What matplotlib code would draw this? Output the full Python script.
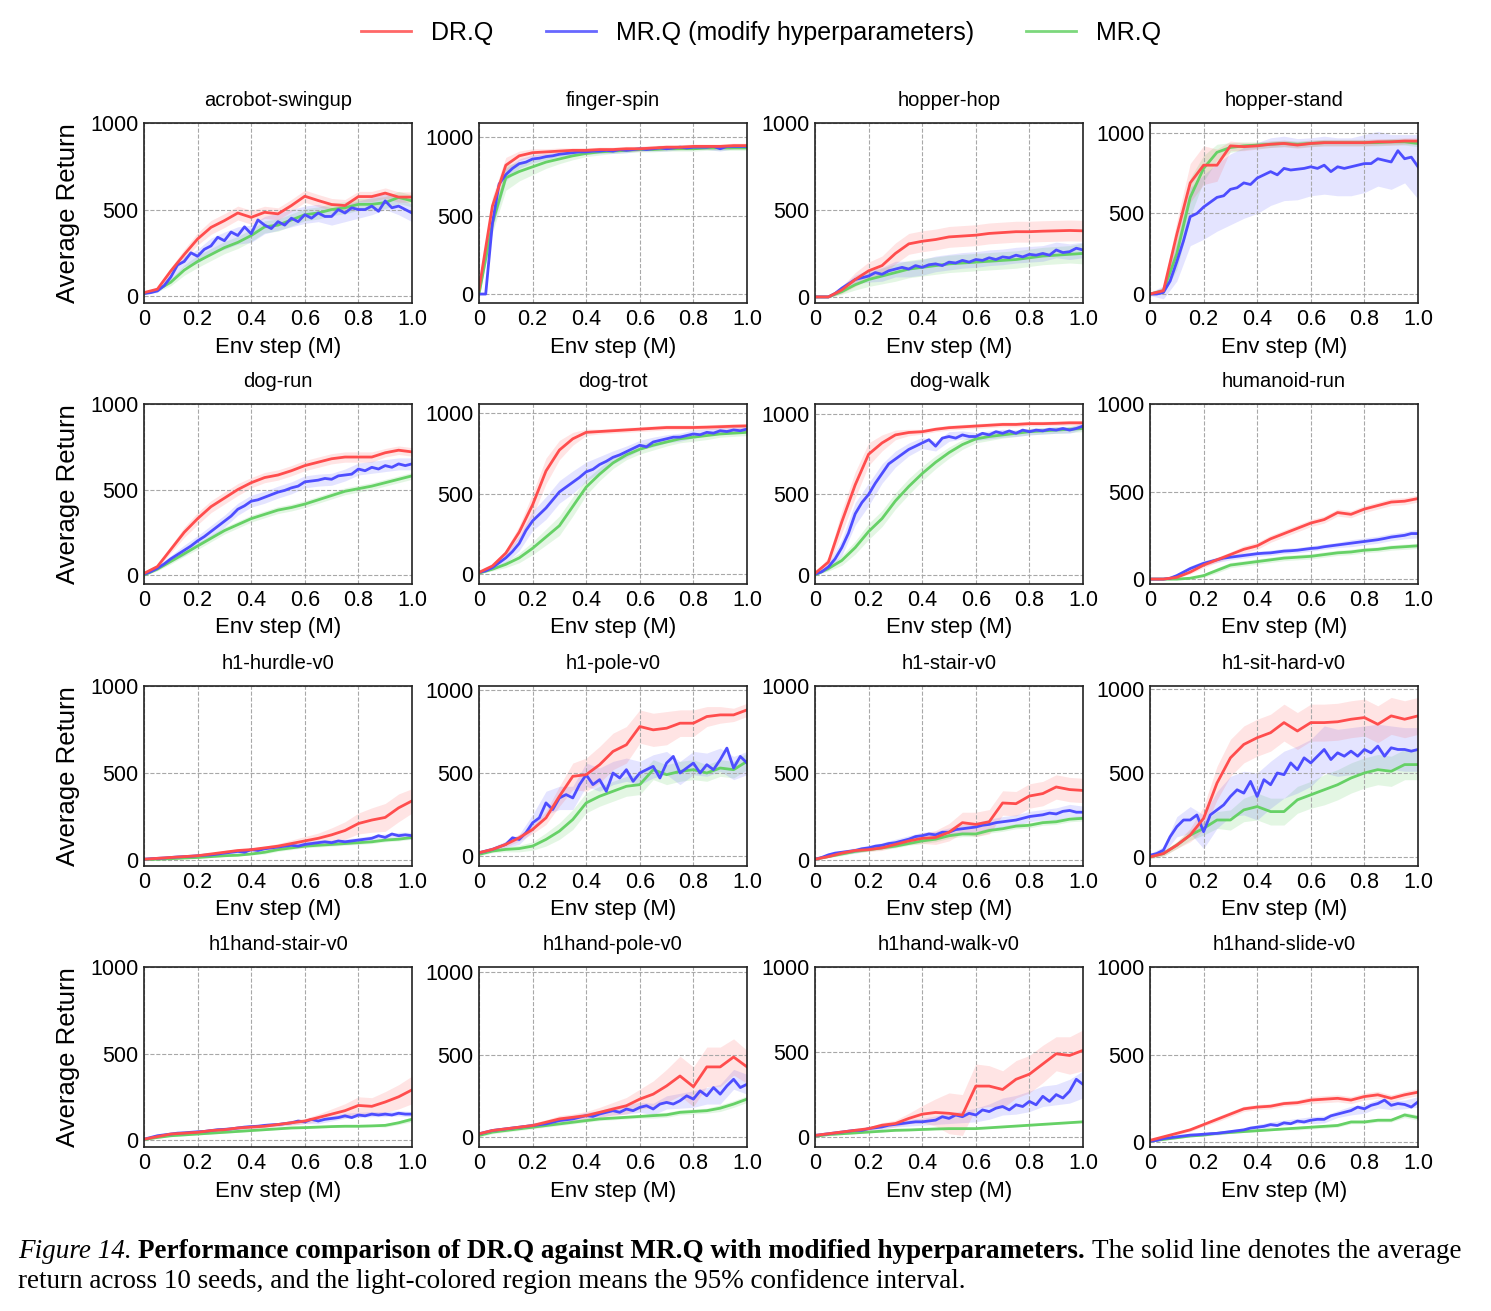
"""
DR.Q vs MR.Q (modified hyperparameters) learning curves, 16 tasks
"""
import numpy as np
import matplotlib
matplotlib.use("Agg")
import matplotlib.pyplot as plt
from matplotlib.lines import Line2D

# x grids: DR.Q / MR.Q logged every 0.05M, modified MR.Q every 0.025M
steps_coarse = np.linspace(0, 1, 21)
steps_fine = np.linspace(0, 1, 41)

# ---- acrobot-swingup
acrobot_drq = [20, 40, 145, 240, 330, 397, 436, 480, 455, 484, 475, 523, 577, 552, 529, 523, 575, 575, 595, 572, 572]
acrobot_mod = [15, 20, 30, 60, 110, 180, 200, 250, 230, 270, 290, 340, 320, 370, 350, 400, 360, 440, 410, 390, 430,
               410, 450, 430, 470, 450, 480, 460, 460, 500, 480, 510, 500, 500, 520, 490, 550, 510, 520, 500, 480]
acrobot_mrq = [15, 35, 80, 150, 200, 240, 280, 310, 350, 400, 410, 440, 470, 480, 500, 510, 530, 530, 540, 570, 550]
acrobot_drq_ci = [5, 10, 20, 30, 35, 40, 40, 40, 40, 35, 35, 35, 35, 35, 35, 35, 30, 30, 30, 30, 30]
acrobot_mod_ci = [5, 10, 20, 30, 40, 45, 50, 50, 50, 50, 50, 50, 50, 50, 50, 50, 50, 50, 50, 50, 50]
acrobot_mrq_ci = [5, 10, 20, 30, 35, 35, 35, 35, 35, 35, 35, 35, 35, 35, 35, 35, 35, 35, 35, 35, 35]

# ---- finger-spin
finger_drq = [30, 560, 820, 880, 900, 905, 910, 915, 915, 920, 920, 925, 925, 930, 935, 935, 940, 940, 940, 945, 945]
finger_mod = [0, 0, 450, 700, 760, 800, 830, 840, 860, 865, 875, 880, 890, 895, 900, 905, 905, 910, 910, 915, 910,
              920, 915, 920, 925, 920, 925, 930, 925, 930, 935, 930, 935, 935, 935, 940, 925, 940, 940, 940, 940]
finger_mrq = [0, 450, 740, 780, 810, 840, 860, 880, 895, 905, 910, 915, 920, 920, 925, 925, 925, 930, 930, 930, 930]
finger_drq_ci = [20, 60, 50, 30, 25, 20, 20, 15, 15, 15, 15, 15, 15, 15, 15, 15, 15, 15, 15, 15, 15]
finger_mod_ci = [10, 40, 40, 30, 25, 20, 15, 15, 15, 15, 15, 15, 15, 15, 15, 15, 15, 15, 15, 15, 15]
finger_mrq_ci = [10, 60, 80, 60, 50, 40, 30, 25, 20, 20, 15, 15, 15, 15, 15, 15, 15, 15, 15, 15, 15]

# ---- hopper-hop
hop_drq = [0, 0, 40, 100, 150, 180, 250, 305, 320, 330, 345, 350, 355, 365, 370, 375, 375, 378, 380, 382, 380]
hop_mod = [0, 0, 0, 20, 50, 75, 100, 110, 120, 140, 130, 150, 160, 170, 160, 180, 170, 185, 190, 180, 200,
           195, 210, 200, 215, 210, 225, 215, 230, 225, 240, 230, 245, 240, 250, 240, 270, 255, 260, 280, 270]
hop_mrq = [0, 0, 30, 70, 100, 120, 140, 160, 170, 180, 190, 195, 200, 205, 210, 215, 225, 235, 240, 245, 250]
hop_drq_ci = [5, 5, 20, 40, 50, 55, 60, 60, 60, 60, 60, 60, 60, 60, 60, 60, 60, 60, 60, 60, 60]
hop_mod_ci = [5, 5, 15, 25, 35, 40, 45, 45, 45, 45, 45, 45, 45, 45, 45, 45, 45, 45, 45, 45, 45]
hop_mrq_ci = [5, 5, 15, 30, 40, 45, 50, 50, 50, 50, 50, 50, 50, 50, 50, 50, 50, 50, 50, 50, 60]

# ---- hopper-stand
stand_drq = [0, 20, 370, 690, 800, 800, 920, 915, 920, 930, 935, 925, 935, 940, 940, 940, 940, 945, 945, 950, 950]
stand_mod = [0, 0, 10, 80, 200, 330, 480, 500, 540, 570, 600, 610, 650, 660, 690, 680, 720, 740, 760, 740, 780,
             770, 775, 780, 790, 780, 800, 760, 790, 780, 790, 800, 810, 810, 840, 830, 820, 890, 840, 850, 790]
stand_mrq = [0, 20, 250, 600, 780, 880, 910, 920, 925, 930, 935, 930, 935, 940, 940, 940, 940, 940, 945, 945, 935]
stand_drq_ci = [10, 20, 80, 120, 120, 100, 30, 25, 20, 20, 20, 20, 20, 20, 20, 20, 20, 20, 20, 20, 20]
stand_mod_ci = [10, 40, 120, 180, 200, 210, 220, 220, 220, 210, 200, 190, 180, 180, 180, 180, 180, 170, 170, 150, 200]
stand_mrq_ci = [10, 20, 100, 120, 80, 50, 30, 25, 20, 20, 20, 20, 20, 20, 20, 20, 20, 20, 20, 20, 20]

# ---- dog-run
dogrun_drq = [10, 50, 150, 250, 330, 400, 450, 500, 540, 570, 585, 610, 640, 660, 680, 690, 690, 690, 715, 730, 720]
dogrun_mod = [5, 20, 40, 65, 95, 120, 145, 170, 200, 225, 255, 285, 315, 345, 385, 405, 432, 440, 455, 470, 485,
              495, 510, 520, 545, 550, 555, 565, 560, 580, 585, 590, 620, 610, 630, 620, 640, 630, 650, 640, 650]
dogrun_mrq = [0, 35, 80, 125, 170, 215, 260, 295, 330, 355, 380, 395, 415, 440, 465, 490, 505, 520, 540, 560, 580]
dogrun_drq_ci = [5, 10, 20, 30, 35, 35, 35, 35, 30, 30, 30, 30, 30, 30, 30, 30, 30, 30, 25, 25, 25]
dogrun_mod_ci = [5, 10, 20, 30, 30, 35, 35, 35, 35, 35, 35, 35, 35, 35, 35, 35, 35, 35, 35, 35, 35]
dogrun_mrq_ci = [5, 10, 15, 15, 20, 20, 20, 20, 20, 20, 20, 20, 20, 20, 20, 20, 20, 20, 20, 20, 20]

# ---- dog-trot
trot_drq = [10, 50, 130, 260, 430, 640, 770, 840, 880, 885, 890, 895, 900, 905, 910, 910, 910, 912, 915, 918, 920]
trot_mod = [10, 20, 40, 70, 100, 140, 190, 270, 330, 370, 410, 460, 510, 540, 570, 600, 635, 650, 680, 700, 725,
            740, 760, 780, 800, 790, 820, 830, 840, 850, 850, 860, 870, 865, 880, 875, 890, 885, 895, 890, 900]
trot_mrq = [5, 30, 60, 100, 160, 230, 300, 420, 540, 620, 690, 740, 775, 800, 820, 840, 850, 860, 870, 875, 880]
trot_drq_ci = [5, 10, 20, 40, 70, 80, 60, 40, 20, 15, 15, 15, 15, 15, 15, 15, 15, 15, 15, 15, 15]
trot_mod_ci = [5, 15, 30, 45, 60, 70, 70, 70, 60, 50, 40, 35, 30, 30, 25, 25, 25, 20, 20, 20, 20]
trot_mrq_ci = [5, 10, 20, 30, 40, 50, 60, 60, 50, 40, 35, 30, 30, 30, 25, 25, 25, 25, 20, 20, 20]

# ---- dog-walk
walk_drq = [10, 80, 330, 560, 750, 820, 870, 885, 890, 905, 915, 920, 925, 930, 935, 935, 940, 940, 942, 945, 945]
walk_mod = [5, 20, 50, 100, 170, 260, 380, 450, 500, 570, 630, 690, 720, 750, 780, 800, 820, 840, 800, 850, 860,
            850, 870, 860, 860, 880, 870, 890, 880, 895, 880, 900, 890, 900, 895, 905, 900, 910, 900, 910, 925]
walk_mrq = [0, 40, 90, 170, 270, 350, 460, 550, 630, 700, 760, 810, 845, 860, 870, 880, 890, 895, 900, 905, 910]
walk_drq_ci = [5, 30, 70, 80, 70, 50, 30, 20, 15, 15, 15, 15, 15, 15, 15, 15, 15, 15, 15, 15, 15]
walk_mod_ci = [5, 20, 50, 70, 70, 60, 50, 40, 35, 30, 30, 25, 25, 25, 25, 20, 20, 20, 20, 20, 20]
walk_mrq_ci = [5, 15, 30, 40, 50, 50, 50, 50, 45, 40, 35, 30, 25, 25, 20, 20, 20, 20, 20, 20, 20]

# ---- humanoid-run
hrun_drq = [0, 0, 10, 40, 80, 110, 140, 170, 190, 230, 260, 290, 320, 340, 380, 370, 400, 420, 440, 445, 460]
hrun_mod = [0, 0, 0, 5, 20, 40, 60, 75, 90, 100, 110, 120, 125, 130, 135, 140, 145, 148, 150, 155, 160,
            162, 165, 170, 175, 178, 185, 190, 195, 200, 205, 210, 215, 220, 225, 232, 240, 245, 250, 260, 260]
hrun_mrq = [0, 0, 0, 5, 20, 50, 80, 90, 100, 110, 120, 125, 130, 140, 150, 155, 165, 170, 180, 185, 190]
hrun_drq_ci = [3, 3, 5, 10, 15, 15, 15, 20, 20, 20, 20, 20, 20, 20, 20, 20, 20, 20, 20, 20, 20]
hrun_mod_ci = [3, 3, 10, 15, 15, 15, 15, 15, 15, 15, 15, 15, 15, 15, 15, 20, 20, 20, 20, 20, 25]
hrun_mrq_ci = [3, 3, 3, 5, 10, 15, 15, 15, 15, 15, 15, 15, 15, 15, 15, 15, 15, 15, 15, 15, 15]

# ---- h1-hurdle-v0
hurdle_drq = [5, 10, 15, 20, 25, 35, 45, 55, 60, 70, 80, 95, 110, 125, 145, 170, 210, 230, 245, 300, 340]
hurdle_mod = [5, 8, 10, 12, 15, 18, 20, 22, 25, 28, 30, 35, 40, 45, 50, 45, 60, 55, 65, 70, 75,
              80, 85, 80, 90, 95, 100, 105, 100, 110, 105, 110, 115, 120, 125, 140, 130, 150, 140, 145, 140]
hurdle_mrq = [3, 5, 8, 12, 15, 20, 25, 28, 35, 45, 60, 70, 80, 85, 90, 95, 100, 105, 115, 120, 130]
hurdle_drq_ci = [5, 5, 5, 5, 5, 5, 10, 10, 10, 10, 15, 20, 25, 30, 40, 50, 60, 70, 80, 80, 70]
hurdle_mod_ci = [3, 3, 5, 5, 5, 10, 10, 10, 10, 10, 10, 15, 15, 15, 15, 15, 15, 15, 20, 20, 20]
hurdle_mrq_ci = [3, 3, 3, 5, 5, 5, 5, 5, 5, 10, 10, 10, 10, 10, 10, 10, 10, 10, 10, 10, 10]

# ---- h1-pole-v0
pole_drq = [20, 40, 70, 110, 160, 230, 360, 480, 490, 550, 630, 670, 780, 760, 770, 800, 800, 840, 850, 850, 880]
pole_mod = [20, 30, 40, 55, 70, 110, 100, 140, 200, 230, 320, 280, 350, 370, 350, 430, 490, 430, 460, 390, 500,
            470, 520, 450, 500, 520, 540, 470, 560, 600, 500, 530, 560, 500, 550, 520, 580, 650, 530, 600, 560]
pole_mrq = [10, 30, 40, 45, 60, 100, 150, 220, 320, 360, 390, 420, 430, 520, 490, 510, 520, 500, 530, 520, 570]
pole_drq_ci = [10, 10, 15, 20, 25, 40, 60, 80, 100, 110, 110, 110, 100, 100, 100, 80, 80, 60, 50, 40, 40]
pole_mod_ci = [10, 15, 20, 30, 50, 70, 70, 70, 70, 70, 70, 70, 70, 70, 70, 70, 70, 70, 70, 70, 70]
pole_mrq_ci = [10, 10, 15, 20, 25, 40, 50, 60, 60, 60, 60, 60, 60, 60, 60, 60, 60, 50, 50, 50, 50]

# ---- h1-stair-v0
stair_drq = [5, 20, 40, 55, 60, 70, 90, 110, 125, 130, 160, 215, 205, 220, 328, 324, 368, 382, 420, 405, 400]
stair_mod = [5, 15, 30, 40, 45, 50, 55, 65, 70, 80, 85, 95, 100, 110, 120, 135, 140, 150, 145, 160, 160,
             175, 180, 185, 190, 200, 205, 215, 220, 225, 230, 240, 250, 255, 260, 270, 265, 280, 285, 275, 275]
stair_mrq = [5, 20, 35, 50, 60, 70, 80, 95, 110, 120, 140, 150, 150, 170, 180, 195, 200, 215, 220, 235, 240]
stair_drq_ci = [5, 5, 10, 10, 10, 15, 15, 20, 30, 40, 50, 60, 70, 70, 70, 70, 70, 70, 70, 70, 70]
stair_mod_ci = [5, 10, 10, 15, 15, 15, 20, 20, 20, 20, 25, 25, 25, 30, 30, 30, 30, 30, 35, 35, 35]
stair_mrq_ci = [5, 5, 10, 10, 10, 10, 10, 10, 15, 15, 15, 15, 15, 15, 15, 15, 15, 15, 15, 15, 15]

# ---- h1-sit-hard-v0
sit_drq = [0, 20, 70, 130, 230, 440, 590, 670, 710, 740, 800, 750, 800, 800, 805, 820, 830, 790, 840, 820, 840]
sit_mod = [10, 20, 40, 120, 180, 220, 220, 250, 150, 250, 280, 310, 360, 400, 380, 450, 360, 460, 430, 500, 490,
           560, 520, 590, 560, 600, 640, 580, 620, 600, 630, 600, 640, 620, 660, 600, 650, 640, 640, 630, 640]
sit_mrq = [0, 20, 70, 130, 170, 220, 220, 280, 300, 270, 270, 340, 370, 400, 430, 470, 500, 520, 510, 550, 550]
sit_drq_ci = [10, 15, 20, 40, 70, 100, 110, 110, 110, 110, 110, 110, 110, 110, 110, 110, 110, 110, 110, 110, 110]
sit_mod_ci = [10, 20, 60, 80, 100, 110, 120, 130, 140, 140, 140, 140, 140, 140, 140, 140, 140, 130, 130, 130, 130]
sit_mrq_ci = [10, 15, 20, 30, 40, 50, 60, 70, 80, 80, 80, 80, 80, 90, 90, 90, 90, 90, 90, 90, 90]

# ---- h1hand-stair-v0
hstair_drq = [5, 20, 35, 40, 45, 55, 60, 70, 75, 80, 90, 100, 110, 130, 150, 170, 200, 195, 220, 250, 290]
hstair_mod = [5, 15, 25, 30, 35, 40, 42, 45, 48, 50, 55, 60, 62, 65, 70, 75, 78, 80, 85, 88, 90,
              95, 100, 110, 105, 120, 110, 120, 125, 130, 140, 130, 145, 140, 150, 145, 150, 145, 155, 150, 150]
hstair_mrq = [3, 15, 25, 30, 35, 40, 45, 50, 55, 60, 65, 70, 72, 75, 78, 80, 80, 82, 85, 100, 120]
hstair_drq_ci = [5, 5, 5, 5, 5, 10, 10, 10, 10, 10, 10, 15, 15, 20, 30, 40, 50, 50, 60, 70, 80]
hstair_mod_ci = [5, 5, 5, 5, 5, 10, 10, 10, 10, 10, 10, 10, 10, 15, 15, 15, 15, 15, 15, 15, 15]
hstair_mrq_ci = [3, 3, 5, 5, 5, 5, 5, 5, 5, 5, 5, 5, 5, 5, 5, 5, 5, 5, 10, 10, 15]

# ---- h1hand-pole-v0
hpole_drq = [20, 40, 50, 60, 70, 90, 110, 120, 130, 150, 170, 190, 230, 260, 310, 370, 305, 425, 425, 485, 425]
hpole_mod = [20, 30, 40, 45, 50, 55, 60, 65, 70, 75, 80, 90, 100, 105, 110, 120, 130, 125, 140, 150, 160,
             150, 170, 160, 180, 190, 170, 200, 210, 200, 220, 250, 230, 280, 250, 300, 260, 310, 350, 300, 320]
hpole_mrq = [10, 30, 40, 50, 60, 70, 80, 90, 100, 110, 115, 120, 125, 130, 135, 150, 155, 160, 175, 200, 230]
hpole_drq_ci = [10, 10, 10, 10, 15, 15, 20, 20, 25, 30, 40, 50, 60, 80, 100, 120, 120, 120, 120, 110, 100]
hpole_mod_ci = [10, 10, 10, 10, 15, 15, 15, 20, 20, 20, 25, 30, 30, 35, 40, 45, 50, 50, 60, 60, 60]
hpole_mrq_ci = [10, 10, 10, 10, 10, 10, 10, 10, 10, 10, 10, 10, 10, 15, 15, 15, 15, 15, 20, 20, 20]

# ---- h1hand-walk-v0
hwalk_drq = [10, 20, 30, 40, 50, 70, 80, 110, 135, 145, 140, 130, 300, 300, 280, 340, 370, 430, 490, 480, 510]
hwalk_mod = [10, 15, 20, 25, 30, 35, 40, 40, 50, 55, 60, 70, 75, 80, 85, 90, 90, 95, 100, 120, 110,
             130, 120, 140, 130, 160, 150, 170, 180, 160, 190, 180, 210, 190, 240, 210, 250, 230, 270, 340, 310]
hwalk_mrq = [5, 15, 20, 25, 30, 35, 40, 42, 45, 48, 50, 50, 50, 55, 60, 65, 70, 75, 80, 85, 90]
hwalk_drq_ci = [5, 5, 5, 10, 10, 15, 20, 30, 50, 80, 120, 120, 130, 120, 110, 110, 110, 110, 100, 110, 120]
hwalk_mod_ci = [5, 5, 5, 10, 10, 15, 15, 20, 20, 25, 30, 35, 40, 45, 50, 55, 60, 60, 60, 70, 80]
hwalk_mrq_ci = [3, 3, 5, 5, 5, 5, 5, 5, 5, 5, 5, 5, 5, 5, 5, 5, 5, 5, 5, 5, 5]

# ---- h1hand-slide-v0
slide_drq = [10, 30, 50, 70, 100, 130, 160, 190, 200, 205, 220, 225, 240, 245, 250, 240, 260, 270, 250, 270, 285]
slide_mod = [5, 10, 20, 25, 30, 35, 40, 42, 45, 48, 50, 55, 60, 65, 70, 80, 85, 90, 100, 95, 110,
             105, 120, 115, 125, 130, 130, 150, 160, 170, 180, 200, 190, 210, 220, 240, 210, 220, 215, 200, 230]
slide_mrq = [5, 15, 25, 35, 40, 50, 55, 60, 65, 70, 75, 80, 85, 90, 95, 115, 115, 125, 125, 155, 140]
slide_drq_ci = [5, 5, 10, 10, 10, 15, 15, 15, 15, 15, 15, 15, 20, 20, 20, 20, 20, 20, 20, 20, 20]
slide_mod_ci = [5, 5, 5, 10, 10, 10, 10, 10, 15, 15, 15, 15, 20, 20, 20, 25, 25, 25, 25, 25, 30]
slide_mrq_ci = [3, 3, 5, 5, 5, 5, 5, 5, 5, 5, 5, 10, 10, 10, 10, 10, 10, 10, 10, 15, 15]

task_names = ["acrobot-swingup", "finger-spin", "hopper-hop", "hopper-stand",
              "dog-run", "dog-trot", "dog-walk", "humanoid-run",
              "h1-hurdle-v0", "h1-pole-v0", "h1-stair-v0", "h1-sit-hard-v0",
              "h1hand-stair-v0", "h1hand-pole-v0", "h1hand-walk-v0", "h1hand-slide-v0"]

panels = [
    (acrobot_drq, acrobot_mod, acrobot_mrq, acrobot_drq_ci, acrobot_mod_ci, acrobot_mrq_ci),
    (finger_drq, finger_mod, finger_mrq, finger_drq_ci, finger_mod_ci, finger_mrq_ci),
    (hop_drq, hop_mod, hop_mrq, hop_drq_ci, hop_mod_ci, hop_mrq_ci),
    (stand_drq, stand_mod, stand_mrq, stand_drq_ci, stand_mod_ci, stand_mrq_ci),
    (dogrun_drq, dogrun_mod, dogrun_mrq, dogrun_drq_ci, dogrun_mod_ci, dogrun_mrq_ci),
    (trot_drq, trot_mod, trot_mrq, trot_drq_ci, trot_mod_ci, trot_mrq_ci),
    (walk_drq, walk_mod, walk_mrq, walk_drq_ci, walk_mod_ci, walk_mrq_ci),
    (hrun_drq, hrun_mod, hrun_mrq, hrun_drq_ci, hrun_mod_ci, hrun_mrq_ci),
    (hurdle_drq, hurdle_mod, hurdle_mrq, hurdle_drq_ci, hurdle_mod_ci, hurdle_mrq_ci),
    (pole_drq, pole_mod, pole_mrq, pole_drq_ci, pole_mod_ci, pole_mrq_ci),
    (stair_drq, stair_mod, stair_mrq, stair_drq_ci, stair_mod_ci, stair_mrq_ci),
    (sit_drq, sit_mod, sit_mrq, sit_drq_ci, sit_mod_ci, sit_mrq_ci),
    (hstair_drq, hstair_mod, hstair_mrq, hstair_drq_ci, hstair_mod_ci, hstair_mrq_ci),
    (hpole_drq, hpole_mod, hpole_mrq, hpole_drq_ci, hpole_mod_ci, hpole_mrq_ci),
    (hwalk_drq, hwalk_mod, hwalk_mrq, hwalk_drq_ci, hwalk_mod_ci, hwalk_mrq_ci),
    (slide_drq, slide_mod, slide_mrq, slide_drq_ci, slide_mod_ci, slide_mrq_ci),
]

# per-panel y range (matches the autoscaled look of the original)
y_limits = [(-40, 1000), (-57, 1089), (-35, 1000), (-56, 1062),
            (-52, 1000), (-62, 1056), (-56, 1062), (-28, 1000),
            (-34, 1000), (-60, 1024), (-34, 1000), (-54, 1018),
            (-40, 1000), (-60, 1030), (-58, 1000), (-28, 1000)]

legend_labels = ["DR.Q", "MR.Q (modify hyperparameters)", "MR.Q"]
RED = "#ff4d4d"
BLUE = "#4d4dff"
GREEN = "#66d166"

SANS = ["Liberation Sans", "DejaVu Sans"]
SERIF = ["Liberation Serif", "DejaVu Serif"]
plt.rcParams["font.family"] = SANS

W, H = 1491, 1311
fig = plt.figure(figsize=(W / 100, H / 100), dpi=100)

col_left = [144, 479, 815, 1150]
row_top = [123, 404, 686, 967]
ax_w, ax_h = 268, 180

for i, (name, data, ylim) in enumerate(zip(task_names, panels, y_limits)):
    r, c = divmod(i, 4)
    ax = fig.add_axes([col_left[c] / W, 1 - (row_top[r] + ax_h) / H, ax_w / W, ax_h / H])
    drq, mod, mrq, drq_ci, mod_ci, mrq_ci = [np.array(v, dtype=float) for v in data]

    ax.fill_between(steps_coarse, mrq - mrq_ci, mrq + mrq_ci, color=GREEN, alpha=0.18, lw=0)
    ax.fill_between(steps_coarse, mod[::2] - mod_ci, mod[::2] + mod_ci, color=BLUE, alpha=0.15, lw=0)
    ax.fill_between(steps_coarse, drq - drq_ci, drq + drq_ci, color=RED, alpha=0.15, lw=0)
    ax.plot(steps_coarse, mrq, color=GREEN, lw=2)
    ax.plot(steps_fine, mod, color=BLUE, lw=2)
    ax.plot(steps_coarse, drq, color=RED, lw=2)

    ax.set_xlim(0, 1)
    ax.set_ylim(*ylim)
    ax.set_xticks([0, 0.2, 0.4, 0.6, 0.8, 1.0])
    ax.set_xticklabels(["0", "0.2", "0.4", "0.6", "0.8", "1.0"])
    ax.set_yticks([0, 500, 1000])
    ax.tick_params(length=0, labelsize=15.5, pad=4)
    ax.grid(True, ls="--", color="#a8a8a8", lw=0.8)
    for sp in ax.spines.values():
        sp.set_linewidth(1.2)
        sp.set_color("#222222")
    ax.set_title(name, fontsize=14.5, pad=12)
    ax.set_xlabel("Env step (M)", fontsize=16, labelpad=5)
    if c == 0:
        ax.set_ylabel("Average Return", fontsize=18.5, labelpad=7)

handles = [Line2D([], [], color=RED, lw=2, alpha=0.85),
           Line2D([], [], color=BLUE, lw=2, alpha=0.85),
           Line2D([], [], color=GREEN, lw=2, alpha=0.85)]
fig.legend(handles, legend_labels, loc="center", bbox_to_anchor=(761 / W, 1 - 33 / H),
           ncol=3, frameon=False, fontsize=18, handlelength=2.0, handletextpad=0.8,
           columnspacing=2.1)

# caption, built piece by piece so the styles can change mid-line
fig.canvas.draw()
renderer = fig.canvas.get_renderer()
cap_size = 19.5
line1 = [("Figure 14. ", dict(style="italic")),
         ("Performance comparison of DR.Q against MR.Q with modified hyperparameters. ", dict(weight="bold")),
         ("The solid line denotes the average", dict())]
x = 18
y1 = 1 - 1251 / H
for txt, kw in line1:
    t = fig.text(x / W, y1, txt, fontsize=cap_size, family=SERIF, va="center", **kw)
    x = t.get_window_extent(renderer).x1
fig.text(18 / W, 1 - 1281 / H,
         "return across 10 seeds, and the light-colored region means the 95% confidence interval.",
         fontsize=cap_size, family=SERIF, va="center")

fig.savefig("out.png", dpi=100)
